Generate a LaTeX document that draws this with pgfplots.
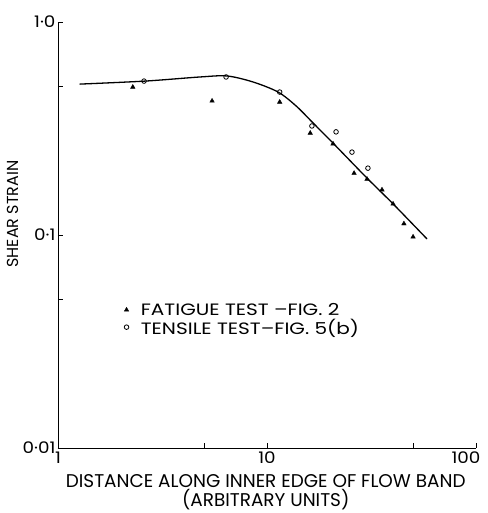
\documentclass[border=0pt]{standalone}
\usepackage{pgfplots}
\pgfplotsset{compat=1.18}
\usepackage{fontspec}
\setmainfont{Poppins}
\newfontfamily\widefont[FakeStretch=1.15]{Poppins}
\newfontfamily\legfont[FakeStretch=1.22]{Poppins}
\begin{document}
\begin{tikzpicture}
\begin{axis}[
  scale only axis, width=418bp, height=426bp,
  xmode=log, ymode=log,
  xmin=1, xmax=100, ymin=0.01, ymax=1,
  axis x line*=bottom, axis y line*=left,
  axis line style={line width=0.7bp},
  xtick={1,10}, xticklabels={1,10},
  extra x ticks={100}, extra x tick labels={100},
  extra x tick style={xticklabel style={xshift=-10bp}},
  ytick={0.01,0.1,1}, yticklabels={0·01,0·1,1·0},
  minor xtick={5,50}, minor ytick={0.05,0.5},
  tick align=inside,
  major tick length=5bp, minor tick length=5bp,
  tick style={line width=0.7bp, black},
  tick label style={font=\widefont\fontsize{16}{16}\selectfont},
  yticklabel style={xshift=1bp},
  xlabel={DISTANCE ALONG INNER EDGE OF FLOW BAND\\(ARBITRARY UNITS)},
  xlabel style={align=center, font=\fontsize{18.5}{19}\selectfont,
    at={(axis description cs:0.497,0)}, anchor=north, yshift=-23bp},
  ylabel={SHEAR STRAIN},
  ylabel style={font=\fontsize{16}{16}\selectfont,
    at={(axis description cs:-0.108,0.549)}, anchor=center},
  legend style={draw=none, fill=none, at={(rel axis cs:0.158,0.302)}, anchor=west,
    font=\legfont\fontsize{16.5}{16.5}\selectfont, row sep=-2bp, column sep=10bp,
    inner sep=0pt, nodes={inner sep=2bp}},
  legend cell align=left,
]
\addplot[black, line width=1.3bp, smooth, tension=0.5, forget plot] coordinates {
(1.27,0.511) (2.61,0.528) (4.78,0.552) (6.44,0.558) (8.57,0.523) (11.3,0.469)
(13.8,0.403) (16.6,0.336) (20.7,0.270) (30.1,0.185) (40.1,0.140) (58.3,0.0958)};
\addplot[only marks, mark=triangle*, mark size=2.6bp, black] coordinates {
(2.28,0.495) (5.46,0.426) (11.5,0.421) (16.1,0.301) (20.7,0.268) (26.1,0.195)
(30.1,0.183) (35.5,0.163) (40.1,0.140) (45.2,0.113) (50.0,0.098)};
\addlegendentry{FATIGUE TEST –FIG. 2}
\addplot[only marks, mark=o, mark size=2.3bp, black, mark options={line width=0.8bp}] coordinates {
(2.58,0.528) (6.37,0.552) (11.5,0.469) (16.4,0.325) (21.4,0.305) (25.5,0.245) (30.4,0.206)};
\addlegendentry{TENSILE TEST–FIG. 5(b)}
\end{axis}
\pgfresetboundingbox
\path[use as bounding box] (-58bp,-65bp) rectangle (430bp,448bp);
\end{tikzpicture}
\end{document}
